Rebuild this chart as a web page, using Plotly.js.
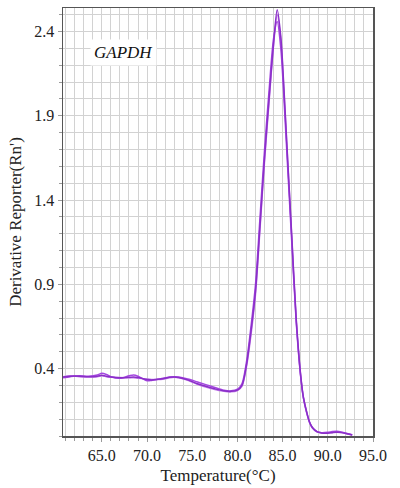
<!DOCTYPE html>
<html>
<head>
<meta charset="utf-8">
<script src="https://cdn.plot.ly/plotly-3.0.1.min.js"></script>
<style>
  html, body { margin: 0; padding: 0; background: #ffffff; }
  #chart { width: 400px; height: 488px; }
</style>
</head>
<body>
<div id="chart"></div>
<script>
// Temperature (°C) sample points
const temperature = [60.7, 61.5, 62.5, 63.5, 64.5, 65.0, 65.5, 66.0, 67.0, 68.0,
  68.5, 69.0, 70.0, 70.5, 71.5, 72.5, 73.0, 73.5, 74.5, 75.5,
  76.5, 77.5, 78.5, 79.3, 80.0, 80.5, 81.0, 81.5, 82.0, 82.5,
  83.0, 83.5, 84.0, 84.4, 84.8, 85.1, 85.5, 86.0, 86.5, 87.0,
  87.3, 87.7, 88.0, 88.3, 88.8, 89.3, 90.0, 90.5, 91.0, 91.5,
  92.0, 92.7];

// Derivative Reporter (Rn') for the replicate melt curves
const replicate1 = [0.350, 0.355, 0.355, 0.352, 0.355, 0.360, 0.355, 0.350, 0.345, 0.348,
  0.350, 0.347, 0.335, 0.333, 0.338, 0.348, 0.350, 0.347, 0.333, 0.312,
  0.295, 0.280, 0.268, 0.265, 0.272, 0.300, 0.420, 0.620, 0.860, 1.250,
  1.650, 2.000, 2.330, 2.530, 2.370, 2.110, 1.700, 1.200, 0.700, 0.360,
  0.230, 0.135, 0.080, 0.050, 0.026, 0.018, 0.017, 0.020, 0.022, 0.020,
  0.015, 0.006];
const replicate2 = [0.345, 0.352, 0.358, 0.355, 0.362, 0.372, 0.365, 0.352, 0.343, 0.357,
  0.362, 0.355, 0.328, 0.330, 0.340, 0.350, 0.352, 0.350, 0.338, 0.322,
  0.305, 0.288, 0.272, 0.268, 0.278, 0.310, 0.440, 0.650, 0.900, 1.300,
  1.700, 2.050, 2.360, 2.460, 2.300, 2.050, 1.650, 1.160, 0.680, 0.350,
  0.225, 0.130, 0.078, 0.048, 0.025, 0.020, 0.022, 0.026, 0.028, 0.024,
  0.016, 0.007];
const replicate3 = [0.352, 0.358, 0.352, 0.350, 0.352, 0.358, 0.352, 0.348, 0.347, 0.345,
  0.345, 0.343, 0.338, 0.336, 0.336, 0.345, 0.348, 0.345, 0.330, 0.308,
  0.290, 0.276, 0.265, 0.262, 0.270, 0.295, 0.410, 0.600, 0.840, 1.230,
  1.630, 1.980, 2.320, 2.500, 2.350, 2.090, 1.690, 1.190, 0.690, 0.355,
  0.228, 0.132, 0.079, 0.049, 0.026, 0.019, 0.018, 0.021, 0.024, 0.021,
  0.015, 0.006];

const xTickVals = [65, 70, 75, 80, 85, 90, 95];
const xTickText = ["65.0", "70.0", "75.0", "80.0", "85.0", "90.0", "95.0"];
const yTickVals = [0.4, 0.9, 1.4, 1.9, 2.4];
const yTickText = ["0.4", "0.9", "1.4", "1.9", "2.4"];
const geneLabel = "GAPDH";

const series = [
  {y: replicate3, color: "#c27ee8"},
  {y: replicate2, color: "#a447e0"},
  {y: replicate1, color: "#8a2fc8"}
];

const traces = series.map(s => ({
  type: "scatter",
  mode: "lines",
  x: temperature,
  y: s.y,
  line: {color: s.color, width: 1.5, shape: "spline", smoothing: 0.8},
  hoverinfo: "x+y"
}));

const serif = "'Liberation Serif', 'Times New Roman', serif";
const gridColor = "#d2d2d2";

const layout = {
  width: 400,
  height: 488,
  margin: {l: 63, r: 27, t: 8, b: 52},
  paper_bgcolor: "#ffffff",
  plot_bgcolor: "#ffffff",
  showlegend: false,
  font: {family: serif, size: 16, color: "#222222"},
  xaxis: {
    range: [60.7, 95],
    tickmode: "array",
    tickvals: xTickVals,
    ticktext: xTickText,
    ticks: "outside",
    ticklen: 4,
    tickcolor: "#9a9a9a",
    showgrid: true,
    gridcolor: gridColor,
    gridwidth: 1,
    minor: {dtick: 1, tick0: 0, showgrid: true, gridcolor: gridColor, gridwidth: 1,
            ticks: "outside", ticklen: 3, tickcolor: "#9a9a9a"},
    showline: true,
    linecolor: "#555555",
    linewidth: 1.5,
    mirror: true,
    zeroline: false,
    tickfont: {family: serif, size: 16, color: "#222222"},
    title: {text: "Temperature(°C)", font: {family: serif, size: 17, color: "#222222"}, standoff: 6}
  },
  yaxis: {
    range: [0, 2.54],
    tickmode: "array",
    tickvals: yTickVals,
    ticktext: yTickText,
    ticks: "outside",
    ticklen: 4,
    tickcolor: "#9a9a9a",
    showgrid: true,
    gridcolor: gridColor,
    gridwidth: 1,
    minor: {dtick: 0.1, tick0: 0, showgrid: true, gridcolor: gridColor, gridwidth: 1,
            ticks: "outside", ticklen: 3, tickcolor: "#9a9a9a"},
    showline: true,
    linecolor: "#555555",
    linewidth: 1.5,
    mirror: true,
    zeroline: false,
    tickfont: {family: serif, size: 16, color: "#222222"},
    title: {text: "Derivative Reporter(Rn')", font: {family: serif, size: 17, color: "#222222"}, standoff: 8}
  },
  annotations: [{
    xref: "paper", yref: "paper",
    x: 0.195, y: 0.897,
    xanchor: "center", yanchor: "middle",
    text: "<i>" + geneLabel + "</i>",
    showarrow: false,
    bgcolor: "#ffffff",
    borderpad: 3,
    font: {family: serif, size: 17, color: "#111111"}
  }]
};

Plotly.newPlot("chart", traces, layout, {displayModeBar: false, staticPlot: true});
</script>
</body>
</html>
